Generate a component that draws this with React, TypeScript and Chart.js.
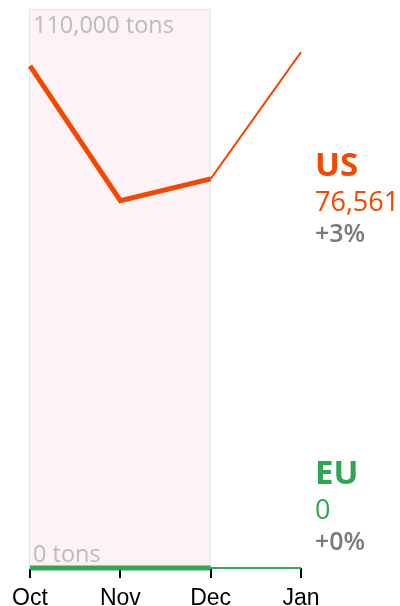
import React, { useEffect, useRef } from "react";
import { Chart, registerables } from "chart.js";

Chart.register(...registerables);

const months = ["Oct", "Nov", "Dec", "Jan"];
const usValues = [98800, 72300, 76561, 101500];
const euValues = [0, 0, 0, 0];
const yMax = 110000;
const topLabel = "110,000 tons";
const bottomLabel = "0 tons";
const seriesLabels = [
  { name: "US", value: "76,561", change: "+3%" },
  { name: "EU", value: "0", change: "+0%" },
];

const ORANGE = "#f24800";
const GREEN = "#2fa653";
const GRAY = "#7a7a7a";
const FONT = "'Open Sans', 'Noto Sans', sans-serif";

const overlayPlugin = {
  id: "overlay",
  beforeDatasetsDraw(chart: any) {
    const { ctx, scales } = chart;
    const x = scales.x, y = scales.y;
    const left = x.getPixelForValue(0) - 1;
    const right = x.getPixelForValue(2);
    const top = y.getPixelForValue(yMax);
    const bottom = y.getPixelForValue(0);
    ctx.save();
    ctx.fillStyle = "#fdf3f7";
    ctx.fillRect(left, top, right - left, bottom - top);
    ctx.strokeStyle = "#e4e4e4";
    ctx.lineWidth = 1;
    ctx.strokeRect(left + 0.5, top + 0.5, right - left - 1, bottom - top);
    ctx.fillStyle = "#bbbbbb";
    ctx.font = `23.5px ${FONT}`;
    ctx.textBaseline = "alphabetic";
    ctx.textAlign = "left";
    ctx.fillText(topLabel, left + 4, top + 24);
    ctx.fillText(bottomLabel, left + 4, bottom - 6);
    ctx.restore();
  },
  afterDraw(chart: any) {
    const { ctx, chartArea } = chart;
    const lx = chartArea.right + 14;
    const blocks = [
      { y: 176, color: ORANGE, ...seriesLabels[0] },
      { y: 484, color: GREEN, ...seriesLabels[1] },
    ];
    ctx.save();
    ctx.textAlign = "left";
    ctx.textBaseline = "alphabetic";
    for (const b of blocks) {
      ctx.fillStyle = b.color;
      ctx.font = `bold 33px ${FONT}`;
      ctx.fillText(b.name, lx, b.y);
      ctx.font = `27px ${FONT}`;
      ctx.fillText(b.value, lx, b.y + 35);
      ctx.fillStyle = GRAY;
      ctx.font = `600 25px ${FONT}`;
      ctx.fillText(b.change, lx, b.y + 66);
    }
    ctx.restore();
  },
};

export default function App() {
  const ref = useRef<HTMLCanvasElement>(null);
  useEffect(() => {
    const seg = (ctx: any) => (ctx.p1DataIndex > 2 ? 2 : 5);
    const chart = new Chart(ref.current!, {
      type: "line",
      data: {
        labels: months,
        datasets: [
          {
            label: "US",
            data: usValues,
            borderColor: ORANGE,
            borderWidth: 5,
            pointRadius: 0,
            tension: 0,
            clip: false as any,
            segment: { borderWidth: seg } as any,
          },
          {
            label: "EU",
            data: euValues,
            borderColor: GREEN,
            borderWidth: 5,
            pointRadius: 0,
            tension: 0,
            clip: false as any,
            segment: { borderWidth: seg } as any,
          },
        ],
      },
      options: {
        animation: false,
        responsive: false,
        layout: { padding: { left: 30, right: 99, top: 9, bottom: 0 } },
        plugins: { legend: { display: false }, tooltip: { enabled: false } },
        scales: {
          x: {
            offset: false,
            border: { display: false },
            grid: { drawOnChartArea: false, tickLength: 10, color: "#000", lineWidth: 2 },
            ticks: {
              color: "#000",
              font: { family: "'Liberation Sans', Arial, sans-serif", size: 23, lineHeight: 1 },
              padding: 9,
              maxRotation: 0,
              autoSkip: false,
            },
            afterFit: (s: any) => {
              s.height = 38;
            },
          },
          y: { display: false, min: 0, max: yMax },
        },
      },
      plugins: [overlayPlugin],
    });
    return () => chart.destroy();
  }, []);
  return (
    <div style={{ position: "fixed", left: 0, top: 0, width: 400, height: 606, background: "#fff" }}>
      <canvas ref={ref} width={400} height={606} style={{ display: "block" }} />
    </div>
  );
}
